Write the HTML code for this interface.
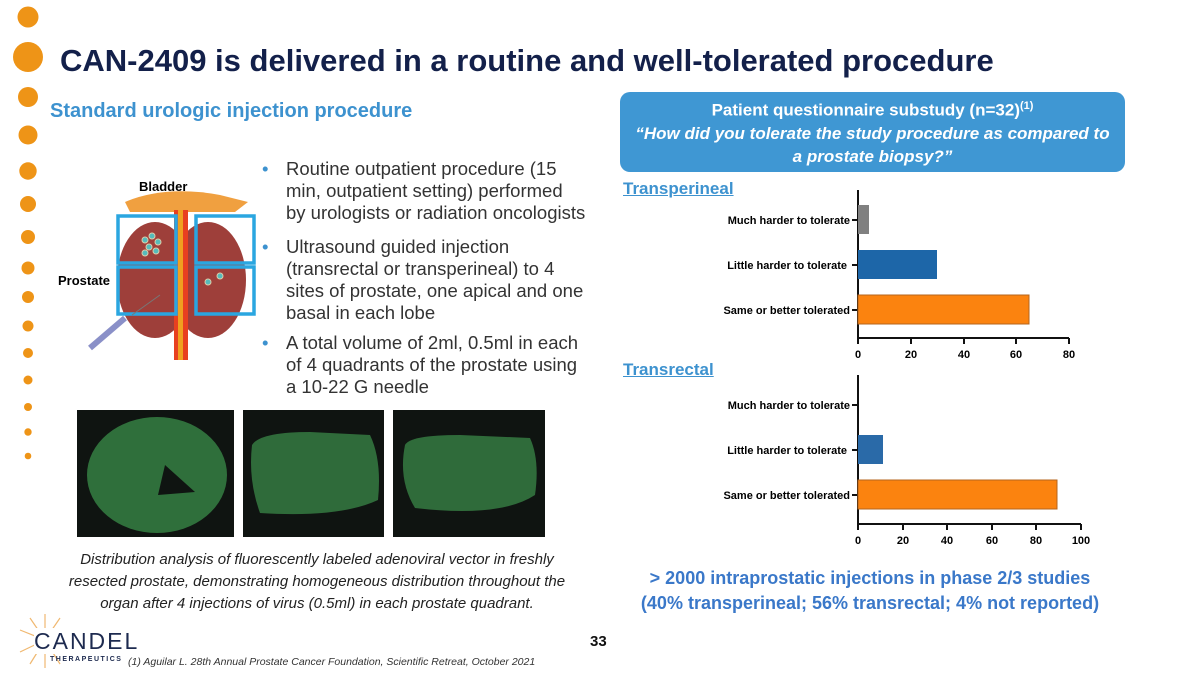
<!DOCTYPE html>
<html><head><meta charset="utf-8"><style>
body{margin:0;width:1200px;height:675px;background:#fff;position:relative;overflow:hidden;font-family:"Liberation Sans",sans-serif}
.a{position:absolute;white-space:nowrap}
.t{left:60px;top:43px;font-size:31px;font-weight:bold;color:#13204a}
.sub{left:50px;top:100px;font-size:20px;font-weight:bold;color:#3d92cf}
.box{left:620px;top:92px;width:505px;height:80px;background:#3f97d3;border-radius:10px;color:#fff;font-weight:bold;text-align:center;font-size:17px;line-height:23px;padding-top:3px;box-sizing:border-box}
.bl{left:262px;font-size:18.5px;color:#333;line-height:22px}
.bl span{color:#3d92cf;position:absolute;left:0}
.bl div{padding-left:24px}
.cap{left:62px;width:510px;top:549px;text-align:center;font-style:italic;font-size:15px;line-height:22px;color:#222;white-space:normal}
.bot{left:610px;width:520px;top:566px;text-align:center;font-weight:bold;font-size:18px;line-height:25px;color:#3a78c9}
.h{font-size:17px;font-weight:bold;color:#3d92cf;text-decoration:underline}
</style></head><body>
<svg class="a" style="left:0;top:0" width="60" height="470">
<g fill="#ee9417">
<circle cx="28" cy="17" r="10.5"/><circle cx="28" cy="57" r="15"/><circle cx="28" cy="97" r="10"/><circle cx="28" cy="135" r="9.5"/><circle cx="28" cy="171" r="8.7"/><circle cx="28" cy="204" r="8"/><circle cx="28" cy="237" r="7"/><circle cx="28" cy="268" r="6.5"/><circle cx="28" cy="297" r="6"/><circle cx="28" cy="326" r="5.5"/><circle cx="28" cy="353" r="5"/><circle cx="28" cy="380" r="4.5"/><circle cx="28" cy="407" r="4"/><circle cx="28" cy="432" r="3.7"/><circle cx="28" cy="456" r="3.3"/></g></svg>
<div class="a t">CAN-2409 is delivered in a routine and well-tolerated procedure</div>
<div class="a sub">Standard urologic injection procedure</div>
<div class="a box">Patient questionnaire substudy (n=32)<sup style="font-size:11px">(1)</sup><br><i>“How did you tolerate the study procedure as compared to<br>a prostate biopsy?”</i></div>

<svg class="a" style="left:50px;top:170px" width="220" height="190">
<text x="89" y="21" font-size="13" font-weight="bold" font-family="Liberation Sans">Bladder</text>
<text x="8" y="115" font-size="13" font-weight="bold" font-family="Liberation Sans">Prostate</text>
<path d="M75 32 Q115 15 170 25 L198 32 L185 42 L80 42Z" fill="#f0a040"/>
<ellipse cx="105" cy="110" rx="38" ry="58" fill="#9e3f3a"/>
<ellipse cx="158" cy="110" rx="38" ry="58" fill="#9e3f3a"/>
<rect x="124" y="40" width="14" height="155" fill="#e84020"/>
<rect x="128" y="40" width="5" height="155" fill="#f0a020"/>
<g fill="none" stroke="#2aa6e0" stroke-width="3.5"><rect x="68" y="46" width="58" height="47"/><rect x="146" y="46" width="58" height="47"/><rect x="68" y="97" width="58" height="47"/><rect x="146" y="97" width="58" height="47"/></g>
<g fill="#5bb" stroke="#dca" stroke-width="1"><circle cx="95" cy="70" r="3"/><circle cx="102" cy="66" r="3"/><circle cx="108" cy="72" r="3"/><circle cx="99" cy="77" r="3"/><circle cx="106" cy="81" r="3"/><circle cx="95" cy="83" r="3"/><circle cx="158" cy="112" r="3"/><circle cx="170" cy="106" r="3"/></g>
<line x1="75" y1="148" x2="40" y2="178" stroke="#8a90c8" stroke-width="6"/>
<line x1="82" y1="145" x2="110" y2="125" stroke="#777" stroke-width="1"/>
</svg>

<div class="a bl" style="top:158px"><span>•</span><div>Routine outpatient procedure (15<br>min, outpatient setting) performed<br>by urologists or radiation oncologists</div></div>
<div class="a bl" style="top:236px"><span>•</span><div>Ultrasound guided injection<br>(transrectal or transperineal) to 4<br>sites of prostate, one apical and one<br>basal in each lobe</div></div>
<div class="a bl" style="top:332px"><span>•</span><div>A total volume of 2ml, 0.5ml in each<br>of 4 quadrants of the prostate using<br>a 10-22 G needle</div></div>

<svg class="a" style="left:0;top:400px" width="600" height="145">
<rect x="77" y="10" width="157" height="127" fill="#0f1411"/>
<rect x="243" y="10" width="141" height="127" fill="#0f1411"/>
<rect x="393" y="10" width="152" height="127" fill="#0f1411"/>
<ellipse cx="157" cy="75" rx="70" ry="58" fill="#2f6f3b"/>
<path d="M252 45 Q260 32 310 32 L370 35 Q382 60 378 100 Q340 118 260 113 Q248 80 252 45Z" fill="#2f6b3a"/>
<path d="M405 45 Q410 35 460 35 L530 38 Q540 60 535 95 Q500 118 415 108 Q398 80 405 45Z" fill="#2f6b3a"/>
<path d="M165 65 L158 95 L195 92Z" fill="#0f1411"/>
</svg>
<div class="a cap">Distribution analysis of fluorescently labeled adenoviral vector in freshly resected prostate, demonstrating homogeneous distribution throughout the organ after 4 injections of virus (0.5ml) in each prostate quadrant.</div>

<div class="a h" style="left:623px;top:179px">Transperineal</div>
<div class="a h" style="left:623px;top:360px">Transrectal</div>
<svg class="a" style="left:600px;top:185px" width="500" height="365" font-family="Liberation Sans" font-size="11" font-weight="bold">
<g stroke="#111" stroke-width="2" fill="none">
<path d="M258 5 V153 H469"/><path d="M258 190 V339 H481"/>
<path d="M252 35h6M252 80h6M252 125h6M258 153v6M311 153v6M364 153v6M416 153v6M469 153v6"/>
<path d="M252 220h6M252 265h6M252 310h6M258 339v6M303 339v6M347 339v6M392 339v6M436 339v6M481 339v6"/>
</g>
<rect x="258" y="20" width="11" height="29" fill="#808080"/>
<rect x="258" y="65" width="79" height="29" fill="#1d66a8"/>
<rect x="258" y="110" width="171" height="29" fill="#fb830f" stroke="#b5651d"/>
<rect x="258" y="250" width="25" height="29" fill="#2a6aa8"/>
<rect x="258" y="295" width="199" height="29" fill="#fb830f" stroke="#b5651d"/>
<g text-anchor="end"><text x="250" y="39">Much harder to tolerate</text><text x="247" y="84">Little harder to tolerate</text><text x="250" y="129">Same or better tolerated</text>
<text x="250" y="224">Much harder to tolerate</text><text x="247" y="269">Little harder to tolerate</text><text x="250" y="314">Same or better tolerated</text></g>
<g text-anchor="middle"><text x="258" y="173">0</text><text x="311" y="173">20</text><text x="364" y="173">40</text><text x="416" y="173">60</text><text x="469" y="173">80</text>
<text x="258" y="359">0</text><text x="303" y="359">20</text><text x="347" y="359">40</text><text x="392" y="359">60</text><text x="436" y="359">80</text><text x="481" y="359">100</text></g>
</svg>
<div class="a bot">&gt; 2000 intraprostatic injections in phase 2/3 studies<br>(40% transperineal; 56% transrectal; 4% not reported)</div>

<svg class="a" style="left:15px;top:612px" width="50" height="58"><g stroke="#f0b870" stroke-width="1.2">
<line x1="30" y1="28" x2="30" y2="2"/><line x1="30" y1="28" x2="45" y2="6"/><line x1="30" y1="28" x2="15" y2="6"/><line x1="30" y1="28" x2="5" y2="18"/><line x1="30" y1="28" x2="5" y2="40"/><line x1="30" y1="28" x2="15" y2="52"/><line x1="30" y1="28" x2="30" y2="56"/><line x1="30" y1="28" x2="45" y2="52"/></g></svg>
<div class="a" style="left:34px;top:628px;font-size:23px;letter-spacing:2px;color:#1d2a4f;background:#fff;line-height:26px">CANDEL</div>
<div class="a" style="left:50px;top:656px;font-size:7px;font-weight:bold;letter-spacing:1.5px;color:#1d2a4f">THERAPEUTICS</div>
<div class="a" style="left:128px;top:656px;font-size:10.5px;font-style:italic;color:#333">(1) Aguilar L. 28th Annual Prostate Cancer Foundation, Scientific Retreat, October 2021</div>
<div class="a" style="left:590px;top:633px;font-size:15px;font-weight:bold;color:#111">33</div>
</body></html>
